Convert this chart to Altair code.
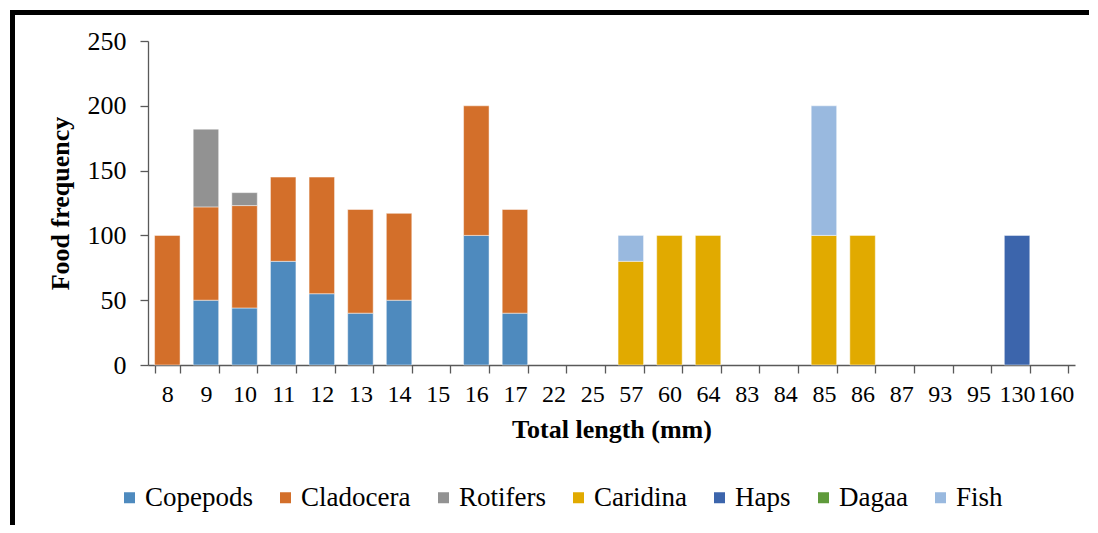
import altair as alt
import pandas as pd

lengths = ["8", "9", "10", "11", "12", "13", "14", "15", "16", "17", "22", "25",
           "57", "60", "64", "83", "84", "85", "86", "87", "93", "95", "130", "160"]
foods = ["Copepods", "Cladocera", "Rotifers", "Caridina", "Haps", "Dagaa", "Fish"]
colors = ["#4E8ABE", "#D36F2A", "#929292", "#E1AA00", "#3C65AC", "#5F9A3B", "#99B9DF"]

copepods  = [0, 50, 44, 80, 55, 40, 50, 0, 100, 40, 0, 0, 0, 0, 0, 0, 0, 0, 0, 0, 0, 0, 0, 0]
cladocera = [100, 72, 79, 65, 90, 80, 67, 0, 100, 80, 0, 0, 0, 0, 0, 0, 0, 0, 0, 0, 0, 0, 0, 0]
rotifers  = [0, 60, 10, 0, 0, 0, 0, 0, 0, 0, 0, 0, 0, 0, 0, 0, 0, 0, 0, 0, 0, 0, 0, 0]
caridina  = [0, 0, 0, 0, 0, 0, 0, 0, 0, 0, 0, 0, 80, 100, 100, 0, 0, 100, 100, 0, 0, 0, 0, 0]
haps      = [0, 0, 0, 0, 0, 0, 0, 0, 0, 0, 0, 0, 0, 0, 0, 0, 0, 0, 0, 0, 0, 0, 100, 0]
dagaa     = [0, 0, 0, 0, 0, 0, 0, 0, 0, 0, 0, 0, 0, 0, 0, 0, 0, 0, 0, 0, 0, 0, 0, 0]
fish      = [0, 0, 0, 0, 0, 0, 0, 0, 0, 0, 0, 0, 20, 0, 0, 0, 0, 100, 0, 0, 0, 0, 0, 0]

series = [copepods, cladocera, rotifers, caridina, haps, dagaa, fish]
rows = []
for k, (name, vals) in enumerate(zip(foods, series)):
    for L, v in zip(lengths, vals):
        if v > 0:
            rows.append({"length": L, "food": name, "value": v, "order": k})
df = pd.DataFrame(rows)

FONT = "Liberation Serif"

bars = alt.Chart(df).mark_bar(stroke="white", strokeWidth=0.8, strokeOpacity=0.6).encode(
    x=alt.X("length:N", sort=lengths,
            scale=alt.Scale(domain=lengths, paddingInner=0.34, paddingOuter=0.17),
            axis=alt.Axis(title="Total length (mm)", labelAngle=0, labelOverlap=False,
                          tickBand="extent", tickSize=8, labelPadding=9,
                          labelFont=FONT, titleFont=FONT,
                          labelFontSize=24, titleFontSize=26, titleFontWeight="bold",
                          titlePadding=10)),
    y=alt.Y("value:Q", stack="zero",
            scale=alt.Scale(domain=[0, 250], nice=False),
            axis=alt.Axis(title="Food frequency", values=[0, 50, 100, 150, 200, 250],
                          tickSize=8, labelPadding=14, grid=False,
                          labelFont=FONT, titleFont=FONT,
                          labelFontSize=26, titleFontSize=26, titleFontWeight="bold",
                          titlePadding=14)),
    color=alt.Color("food:N", scale=alt.Scale(domain=foods, range=colors),
                    legend=alt.Legend(title=None, orient="none", direction="horizontal",
                                      legendX=-32, legendY=443, columns=7,
                                      symbolType="square", symbolSize=121,
                                      symbolStrokeWidth=0, labelFontSize=27,
                                      labelFont=FONT,
                                      labelOffset=2, columnPadding=19, padding=0,
                                      labelColor="black")),
    order=alt.Order("order:Q"),
)

frame_data = pd.DataFrame({"a": [0]})
top_border = alt.Chart(frame_data).mark_rule(color="black", strokeWidth=5).encode(
    x=alt.value(-138), x2=alt.value(942), y=alt.value(-28.5))
left_border = alt.Chart(frame_data).mark_rule(color="black", strokeWidth=5).encode(
    x=alt.value(-135.5), y=alt.value(-31), y2=alt.value(484))

chart = alt.layer(bars, top_border, left_border).properties(
    width=927, height=324,
    autosize=alt.AutoSizeParams(type="none"),
    padding={"left": 140, "top": 33, "right": 14, "bottom": 160},
).configure(font=FONT).configure_axis(
    domainColor="#595959", tickColor="#595959", labelColor="black", titleColor="black",
    labelFont=FONT, titleFont=FONT, domainWidth=1.3, tickWidth=1.3,
).configure_view(stroke=None).configure_legend(labelFont=FONT)

chart.save("out.html", embed_options={"renderer": "svg", "actions": False})
